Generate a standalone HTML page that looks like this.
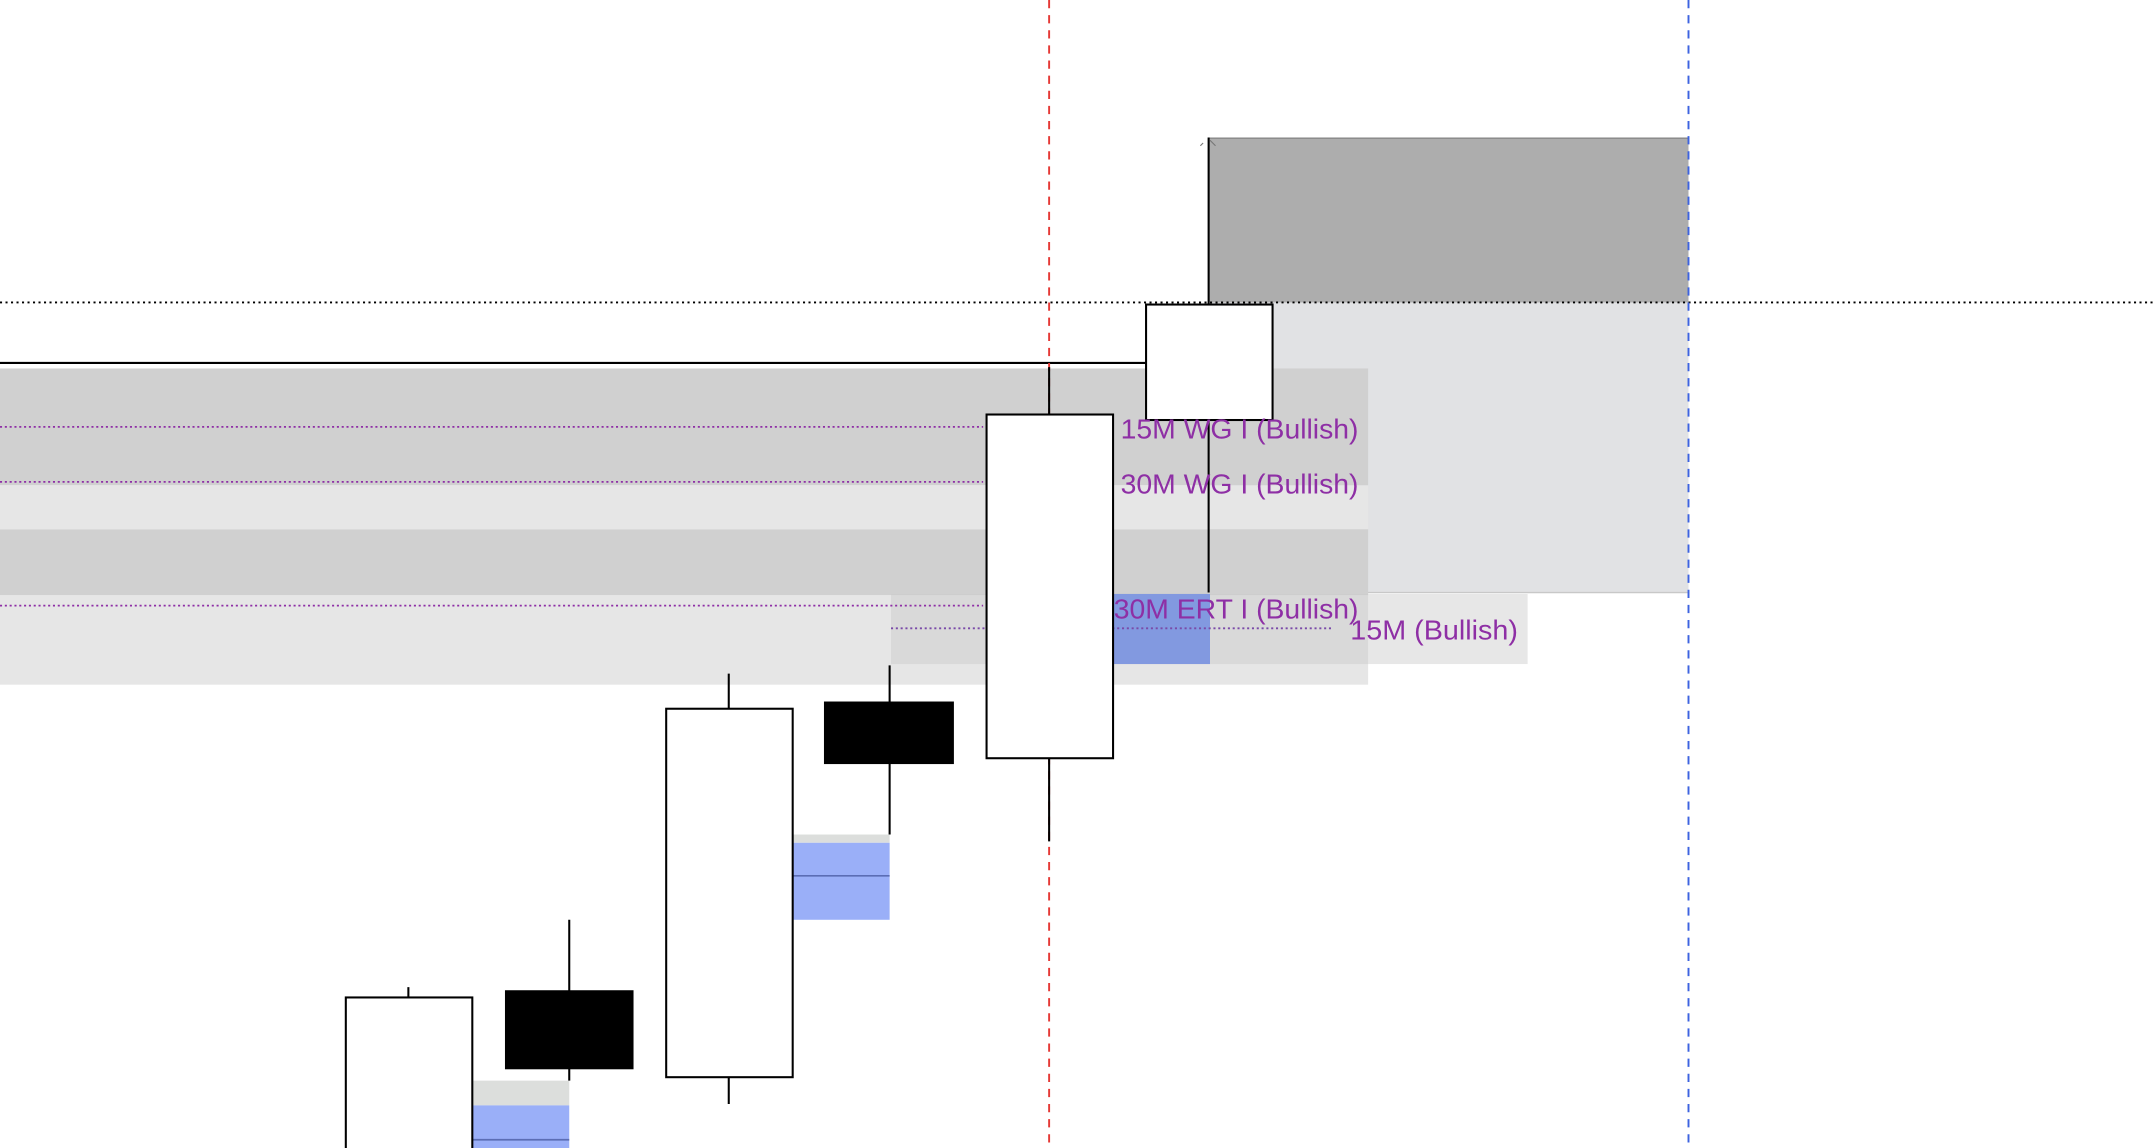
<!DOCTYPE html>
<html><head><meta charset="utf-8"><style>
html,body{margin:0;padding:0;background:#fff;width:2156px;height:1148px;overflow:hidden}
svg{display:block}
text{font-family:"Liberation Sans",sans-serif;font-size:20px;fill:#8e2fa5}
</style></head><body>
<svg width="2156" height="1148" viewBox="0 0 1568 835" preserveAspectRatio="none" xmlns="http://www.w3.org/2000/svg">
<rect x="879" y="220" width="349" height="211" fill="#e1e2e4"/>
<line x1="879" y1="431" x2="1228" y2="431" stroke="#c8c8c8" stroke-width="1"/>
<rect x="879" y="100" width="349" height="120" fill="#adadad"/>
<line x1="879" y1="100.5" x2="1228" y2="100.5" stroke="#888" stroke-width="1"/>
<rect x="0" y="268" width="995" height="85" fill="#d0d0d0"/>
<rect x="0" y="353" width="995" height="32" fill="#e6e6e6"/>
<rect x="0" y="385" width="995" height="48" fill="#d0d0d0"/>
<rect x="0" y="433" width="995" height="65" fill="#e6e6e6"/>
<rect x="648" y="432" width="463" height="51" fill="#c9c9c9" opacity="0.45"/>
<rect x="808" y="432" width="72" height="51" fill="#8299e0"/>
<line x1="0" y1="310.5" x2="715" y2="310.5" stroke="#8e2fa5" stroke-width="1.3" stroke-dasharray="1.5 2"/>
<line x1="0" y1="350.5" x2="715" y2="350.5" stroke="#8e2fa5" stroke-width="1.3" stroke-dasharray="1.5 2"/>
<line x1="0" y1="440.5" x2="715" y2="440.5" stroke="#8e2fa5" stroke-width="1.3" stroke-dasharray="1.5 2"/>
<line x1="648" y1="457" x2="970" y2="457" stroke="#7a4aa8" stroke-width="1.3" stroke-dasharray="1.5 2"/>
<rect x="343" y="786" width="71" height="18" fill="#dcdedc"/>
<rect x="343" y="804" width="71" height="31" fill="#9aaff8"/>
<line x1="343" y1="829" x2="414" y2="829" stroke="#5b6db5" stroke-width="1.2"/>
<rect x="576" y="607" width="71" height="6" fill="#dcdedc"/>
<rect x="576" y="613" width="71" height="56" fill="#9aaff8"/>
<line x1="576" y1="637" x2="647" y2="637" stroke="#5b6db5" stroke-width="1.2"/>
<line x1="0" y1="220" x2="1568" y2="220" stroke="#000" stroke-width="1.4" stroke-dasharray="1.5 2.5"/>
<line x1="0" y1="264" x2="833" y2="264" stroke="#000" stroke-width="1.5"/>
<line x1="763" y1="0" x2="763" y2="835" stroke="#e53935" stroke-width="1.4" stroke-dasharray="6 5"/>
<line x1="1228" y1="0" x2="1228" y2="835" stroke="#3d63e0" stroke-width="1.4" stroke-dasharray="6 5"/>
<g stroke="#000" stroke-width="1.5">
<line x1="297" y1="718" x2="297" y2="725"/>
<rect x="251.5" y="725.5" width="92" height="115" fill="#fff"/>
<line x1="414" y1="669" x2="414" y2="786"/>
<rect x="368" y="721" width="92" height="56" fill="#000"/>
<line x1="530" y1="490" x2="530" y2="803"/>
<rect x="484.5" y="515.5" width="92" height="268" fill="#fff"/>
<line x1="647" y1="484" x2="647" y2="607"/>
<rect x="600" y="511" width="93" height="44" fill="#000"/>
<line x1="763" y1="267" x2="763" y2="612"/>
<rect x="717.5" y="301.5" width="92" height="250" fill="#fff"/>
<line x1="879" y1="100" x2="879" y2="431"/>
<rect x="833.5" y="221.5" width="92" height="84" fill="#fff"/>
</g>
<path d="M873 106 L875 104 M880 102 L884 106" stroke="#777" stroke-width="0.8"/>
<text x="815" y="319" textLength="173" lengthAdjust="spacingAndGlyphs">15M WG I (Bullish)</text>
<text x="815" y="359" textLength="173" lengthAdjust="spacingAndGlyphs">30M WG I (Bullish)</text>
<text x="810" y="450" textLength="178" lengthAdjust="spacingAndGlyphs">30M ERT I (Bullish)</text>
<text x="982" y="465" textLength="122" lengthAdjust="spacingAndGlyphs">15M (Bullish)</text>
</svg>
</body></html>
